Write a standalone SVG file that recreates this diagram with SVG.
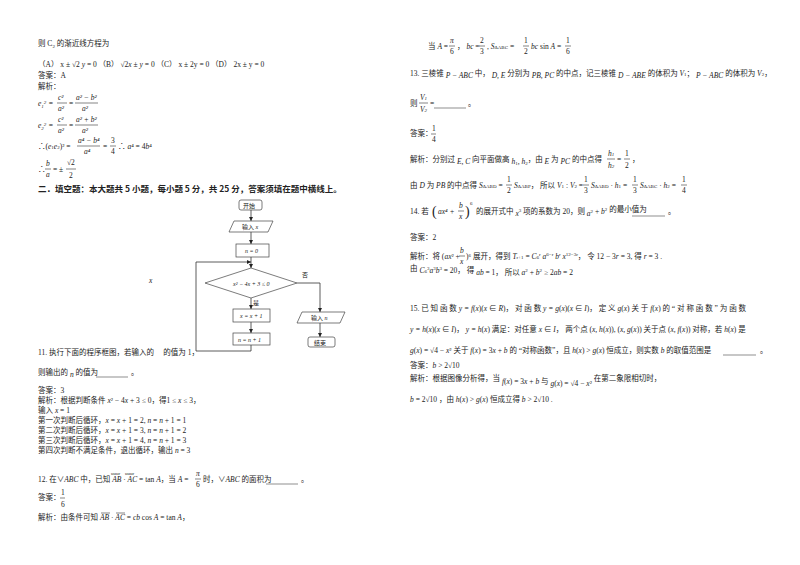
<svg xmlns="http://www.w3.org/2000/svg" width="800" height="565" viewBox="0 0 800 565">
<style>
text{font-family:"Liberation Serif","Noto Sans CJK SC",serif;font-size:7.5px;fill:#222}
.i{font-style:italic}
.b{font-weight:bold;font-size:8.5px;font-family:"Noto Sans CJK SC",sans-serif}
.s{font-size:5px}
.fl{stroke:#333;stroke-width:0.6}
.nd{fill:#fff;stroke:#444;stroke-width:0.7}
.fc{font-size:6px}
.ln{stroke:#333;stroke-width:0.8;fill:none}
.ul{stroke:#444;stroke-width:0.6}
</style>
<defs><marker id="ar" markerWidth="6" markerHeight="6" refX="5" refY="3" orient="auto"><path d="M0,0.5 L5,3 L0,5.5Z" fill="#222"/></marker></defs>
<rect width="800" height="565" fill="#fff"/>
<!-- left column -->
<text x="38" y="46">则 C<tspan class="s" dy="2">2</tspan><tspan dy="-2"> 的渐近线方程为</tspan></text>
<text x="38" y="67">（A） x ± √2 <tspan class="i">y</tspan> = 0 （B） √2<tspan class="i">x</tspan> ± <tspan class="i">y</tspan> = 0 （C） x ± 2y = 0 （D） 2x ± y = 0</text>
<text x="38" y="78">答案：A</text>
<text x="38" y="89">解析：</text>
<text x="38" y="106" class="i">e<tspan class="s" dy="2">1</tspan><tspan dy="-4" class="s">2</tspan><tspan dy="2"> = </tspan></text>
<text x="58" y="100" class="i">c²</text><line x1="57" y1="103" x2="67" y2="103" class="fl"/><text x="58" y="111" class="i">a²</text>
<text x="69" y="106">=</text>
<text x="76" y="100" class="i">a² − b²</text><line x1="75" y1="103" x2="98" y2="103" class="fl"/><text x="82" y="111" class="i">a²</text>
<text x="38" y="128" class="i">e<tspan class="s" dy="2">2</tspan><tspan dy="-4" class="s">2</tspan><tspan dy="2"> = </tspan></text>
<text x="58" y="122" class="i">c²</text><line x1="57" y1="125" x2="67" y2="125" class="fl"/><text x="58" y="133" class="i">a²</text>
<text x="69" y="128">=</text>
<text x="76" y="122" class="i">a² + b²</text><line x1="75" y1="125" x2="98" y2="125" class="fl"/><text x="82" y="133" class="i">a²</text>
<text x="38" y="149">∴(<tspan class="i">e</tspan><tspan class="s">1</tspan><tspan class="i">e</tspan><tspan class="s">2</tspan>)² =</text>
<text x="78" y="143" class="i">a⁴ − b⁴</text><line x1="77" y1="146" x2="100" y2="146" class="fl"/><text x="84" y="154" class="i">a⁴</text>
<text x="103" y="149">=</text>
<text x="111" y="143">3</text><line x1="110" y1="146" x2="116" y2="146" class="fl"/><text x="111" y="154">4</text>
<text x="118" y="149">∴ <tspan class="i">a</tspan>⁴ = 4<tspan class="i">b</tspan>⁴</text>
<text x="38" y="172">∴</text>
<text x="46" y="166" class="i">b</text><line x1="45" y1="169" x2="51" y2="169" class="fl"/><text x="46" y="177" class="i">a</text>
<text x="53" y="172">= ±</text>
<text x="67" y="165">√2</text><line x1="66" y1="169" x2="76" y2="169" class="fl"/><text x="69" y="178">2</text>
<text x="38" y="192" class="b">二．填空题：本大题共 5 小题，每小题 5 分，共 25 分，答案须填在题中横线上。</text>
<!-- flowchart -->
<g id="connectors">
<line x1="251" y1="210" x2="251" y2="221" class="ln" marker-end="url(#ar)"/>
<line x1="251" y1="232" x2="251" y2="244" class="ln" marker-end="url(#ar)"/>
<line x1="251" y1="257" x2="251" y2="268" class="ln" marker-end="url(#ar)"/>
<line x1="251" y1="298" x2="251" y2="309" class="ln" marker-end="url(#ar)"/>
<line x1="251" y1="322" x2="251" y2="333" class="ln" marker-end="url(#ar)"/>
<polyline points="251,345 251,351 196,351 196,262 251,262" class="ln" marker-end="url(#ar)"/>
<polyline points="297,283 320,283 320,312" class="ln" marker-end="url(#ar)"/>
<line x1="320" y1="323" x2="320" y2="337" class="ln" marker-end="url(#ar)"/>
</g>
<g id="start"><rect x="239" y="200" width="23" height="10" rx="2" class="nd"/><text x="243" y="207.5" class="fc">开始</text></g>
<g id="input-x"><polygon points="234,221 273,221 268,232 229,232" class="nd"/><text x="242" y="229" class="fc">输入 <tspan class="i">x</tspan></text></g>
<g id="n0"><rect x="236" y="244" width="33" height="13" class="nd"/><text x="245" y="252.5" class="fc i">n = 0</text></g>
<g id="cond"><polygon points="251,268 297,283 251,298 205,283" class="nd"/><text x="233" y="285.5" class="fc i">x² − 4x + 3 ≤ 0</text></g>
<text x="253" y="305" class="fc">是</text>
<text x="302" y="277" class="fc">否</text>
<g id="xinc"><rect x="233" y="309" width="37" height="13" class="nd"/><text x="240" y="317.5" class="fc i">x = x + 1</text></g>
<g id="ninc"><rect x="233" y="333" width="37" height="12" class="nd"/><text x="238" y="341.5" class="fc i">n = n + 1</text></g>
<g id="output-n"><polygon points="302,312 345,312 340,323 297,323" class="nd"/><text x="311" y="320" class="fc">输入 <tspan class="i">n</tspan></text></g>
<g id="end"><rect x="308" y="337" width="27" height="10" rx="2" class="nd"/><text x="314" y="344.5" class="fc">结束</text></g>
<text x="149" y="283" class="i">x</text>
<!-- q11 -->
<text x="38" y="355">11. 执行下面的程序框图，若输入的　 的值为 1，</text>
<text x="38" y="375">则输出的 <tspan class="i" dy="2">n</tspan><tspan dy="-2"> 的值为</tspan></text>
<line x1="96" y1="377" x2="128" y2="377" class="ul"/><text x="131" y="375">。</text>
<text x="38" y="393">答案：3</text>
<text x="38" y="403">解析：根据判断条件 <tspan class="i">x</tspan>² − 4<tspan class="i">x</tspan> + 3 ≤ 0，得1 ≤ <tspan class="i">x</tspan> ≤ 3，</text>
<text x="38" y="413">输入 <tspan class="i">x</tspan> = 1</text>
<text x="38" y="423">第一次判断后循环，<tspan class="i">x</tspan> = <tspan class="i">x</tspan> + 1 = 2, <tspan class="i">n</tspan> = <tspan class="i">n</tspan> + 1 = 1</text>
<text x="38" y="433">第二次判断后循环，<tspan class="i">x</tspan> = <tspan class="i">x</tspan> + 1 = 3, <tspan class="i">n</tspan> = <tspan class="i">n</tspan> + 1 = 2</text>
<text x="38" y="443">第三次判断后循环，<tspan class="i">x</tspan> = <tspan class="i">x</tspan> + 1 = 4, <tspan class="i">n</tspan> = <tspan class="i">n</tspan> + 1 = 3</text>
<text x="38" y="453">第四次判断不满足条件，退出循环，输出 <tspan class="i">n</tspan> = 3</text>
<text x="38" y="482">12. 在∨<tspan class="i">ABC</tspan> 中，已知 <tspan class="i">AB</tspan> · <tspan class="i">AC</tspan> = tan <tspan class="i">A</tspan>，当 <tspan class="i">A</tspan> =</text>
<text x="111" y="475" class="s">uuur</text><text x="125" y="475" class="s">uuur</text>
<text x="196" y="476" class="i">π</text><line x1="195" y1="479" x2="201" y2="479" class="fl"/><text x="196" y="487">6</text>
<text x="203" y="482">时，∨<tspan class="i">ABC</tspan> 的面积为</text>
<line x1="266" y1="484" x2="298" y2="484" class="ul"/><text x="301" y="482">。</text>
<text x="38" y="500">答案：</text>
<text x="61" y="495">1</text><line x1="60" y1="498" x2="65" y2="498" class="fl"/><text x="61" y="507">6</text>
<text x="38" y="520">解析：由条件可知 <tspan class="i">AB</tspan> · <tspan class="i">AC</tspan> = <tspan class="i">cb</tspan> cos <tspan class="i">A</tspan> = tan <tspan class="i">A</tspan>，</text>
<line x1="101" y1="513" x2="110" y2="513" class="fl"/><line x1="116" y1="513" x2="125" y2="513" class="fl"/>
<!-- right column -->
<text x="428" y="49">当 <tspan class="i">A</tspan> =</text>
<text x="450" y="43" class="i">π</text><line x1="449" y1="46" x2="455" y2="46" class="fl"/><text x="450" y="54">6</text>
<text x="457" y="49">， <tspan class="i">bc</tspan> =</text>
<text x="480" y="43">2</text><line x1="479" y1="46" x2="485" y2="46" class="fl"/><text x="480" y="54">3</text>
<text x="487" y="49">, <tspan class="i">S</tspan><tspan class="s">ΔABC</tspan> =</text>
<text x="524" y="43">1</text><line x1="523" y1="46" x2="529" y2="46" class="fl"/><text x="524" y="54">2</text>
<text x="531" y="49"><tspan class="i">bc</tspan> sin <tspan class="i">A</tspan> =</text>
<text x="566" y="43">1</text><line x1="565" y1="46" x2="571" y2="46" class="fl"/><text x="566" y="54">6</text>
<text x="410" y="76">13. 三棱锥 <tspan class="i" dy="2">P − ABC</tspan><tspan dy="-2"> 中， </tspan><tspan class="i" dy="2">D, E</tspan><tspan dy="-2"> 分别为 </tspan><tspan class="i" dy="2">PB, PC</tspan><tspan dy="-2"> 的中点，记三棱锥 </tspan><tspan class="i" dy="2">D − ABE</tspan><tspan dy="-2"> 的体积为 </tspan><tspan class="i">V</tspan><tspan class="s">1</tspan>；  <tspan class="i" dy="2">P − ABC</tspan><tspan dy="-2"> 的体积为 </tspan><tspan class="i">V</tspan><tspan class="s">2</tspan>，</text>
<text x="410" y="106">则</text>
<text x="420" y="100" class="i">V<tspan class="s">1</tspan></text><line x1="419" y1="103" x2="428" y2="103" class="fl"/><text x="420" y="112" class="i">V<tspan class="s">2</tspan></text>
<text x="430" y="106">=</text>
<line x1="434" y1="108" x2="466" y2="108" class="ul"/><text x="468" y="106">。</text>
<text x="410" y="136">答案：</text>
<text x="432" y="131">1</text><line x1="431" y1="134" x2="436" y2="134" class="fl"/><text x="432" y="142">4</text>
<text x="410" y="162">解析：分别过 <tspan class="i" dy="2">E, C</tspan><tspan dy="-2"> 向平面做高 </tspan><tspan class="i" dy="2">h</tspan><tspan class="s" dy="1">1</tspan><tspan class="i" dy="-1">, h</tspan><tspan class="s" dy="1">2</tspan><tspan dy="-3">，由 </tspan><tspan class="i" dy="2">E</tspan><tspan dy="-2"> 为 </tspan><tspan class="i" dy="2">PC</tspan><tspan dy="-2"> 的中点得</tspan></text>
<text x="608" y="156" class="i">h<tspan class="s">1</tspan></text><line x1="607" y1="159" x2="615" y2="159" class="fl"/><text x="608" y="168" class="i">h<tspan class="s">2</tspan></text>
<text x="617" y="162">=</text>
<text x="625" y="156">1</text><line x1="624" y1="159" x2="630" y2="159" class="fl"/><text x="625" y="168">2</text>
<text x="632" y="162">，</text>
<text x="410" y="188">由 <tspan class="i">D</tspan> 为 <tspan class="i">PB</tspan> 的中点得 <tspan class="i">S</tspan><tspan class="s">ΔABD</tspan> =</text>
<text x="507" y="182">1</text><line x1="506" y1="185" x2="512" y2="185" class="fl"/><text x="507" y="193">2</text>
<text x="514" y="188"><tspan class="i">S</tspan><tspan class="s">ΔABP</tspan>， 所以 <tspan class="i">V</tspan><tspan class="s">1</tspan> : <tspan class="i">V</tspan><tspan class="s">2</tspan> =</text>
<text x="584" y="182">1</text><line x1="583" y1="185" x2="589" y2="185" class="fl"/><text x="584" y="193">3</text>
<text x="591" y="188"><tspan class="i">S</tspan><tspan class="s">ΔABD</tspan> · <tspan class="i">h</tspan><tspan class="s">1</tspan> =</text>
<text x="633" y="182">1</text><line x1="632" y1="185" x2="638" y2="185" class="fl"/><text x="633" y="193">3</text>
<text x="640" y="188"><tspan class="i">S</tspan><tspan class="s">ΔABC</tspan> · <tspan class="i">h</tspan><tspan class="s">2</tspan> =</text>
<text x="682" y="182">1</text><line x1="681" y1="185" x2="687" y2="185" class="fl"/><text x="682" y="193">4</text>
<text x="410" y="214">14. 若</text>
<text x="432" y="216" style="font-size:14px">(</text>
<text x="438" y="214" class="i">ax⁴ +</text>
<text x="459" y="208" class="i">b</text><line x1="458" y1="211" x2="464" y2="211" class="fl"/><text x="459" y="219" class="i">x</text>
<text x="465" y="216" style="font-size:14px">)</text><text x="470" y="205" class="s">6</text>
<text x="476" y="214">的展开式中 <tspan class="i" dy="2">x</tspan><tspan class="s" dy="-4">3</tspan><tspan dy="2"> 项的系数为 20，则 </tspan><tspan class="i" dy="2">a</tspan><tspan class="s" dy="-3">2</tspan><tspan dy="1"> + </tspan><tspan class="i">b</tspan><tspan class="s" dy="-3">2</tspan><tspan dy="1"> 的最小值为</tspan></text>
<line x1="632" y1="216" x2="665" y2="216" class="ul"/><text x="668" y="214">。</text>
<text x="410" y="240">答案：2</text>
<text x="410" y="259">解析：将 (<tspan class="i">ax</tspan>² +</text>
<text x="460" y="253" class="i">b</text><line x1="459" y1="256" x2="465" y2="256" class="fl"/><text x="460" y="264" class="i">x</text>
<text x="466" y="259">)⁶ 展开，得到 <tspan class="i">T</tspan><tspan class="s">r+1</tspan> = <tspan class="i">C</tspan><tspan class="s">6</tspan><tspan class="s" dy="-3">r</tspan><tspan dy="3" class="i"> a</tspan><tspan class="s" dy="-3">6−r</tspan><tspan dy="3" class="i"> b</tspan><tspan class="s" dy="-3">r</tspan><tspan dy="3" class="i"> x</tspan><tspan class="s" dy="-3">12−3r</tspan><tspan dy="3">， 令 12 − 3<tspan class="i">r</tspan> = 3, 得 <tspan class="i">r</tspan> = 3 .</tspan></text>
<text x="410" y="271">由 <tspan class="i" dy="2">C</tspan><tspan class="s">6</tspan><tspan class="s" dy="-3">3</tspan><tspan class="i" dy="3">a</tspan><tspan class="s" dy="-3">3</tspan><tspan class="i" dy="3">b</tspan><tspan class="s" dy="-3">3</tspan><tspan dy="3"> = 20，  得 </tspan><tspan class="i" dy="2">ab</tspan><tspan dy="0"> = 1，  所以 </tspan><tspan class="i">a</tspan><tspan class="s" dy="-3">2</tspan><tspan dy="3"> + </tspan><tspan class="i">b</tspan><tspan class="s" dy="-3">2</tspan><tspan dy="3"> ≥ 2<tspan class="i">ab</tspan> = 2</tspan></text>
<text x="410" y="311">15. 已 知 函 数  <tspan class="i">y = f</tspan>(<tspan class="i">x</tspan>)(<tspan class="i">x</tspan> ∈ <tspan class="i">R</tspan>)，  对 函 数  <tspan class="i">y = g</tspan>(<tspan class="i">x</tspan>)(<tspan class="i">x</tspan> ∈ <tspan class="i">I</tspan>)，  定 义  <tspan class="i">g</tspan>(<tspan class="i">x</tspan>) 关 于  <tspan class="i">f</tspan>(<tspan class="i">x</tspan>) 的 “ 对 称 函 数 ” 为 函 数</text>
<text x="410" y="332"><tspan class="i">y = h</tspan>(<tspan class="i">x</tspan>)(<tspan class="i">x</tspan> ∈ <tspan class="i">I</tspan>)，  <tspan class="i">y = h</tspan>(<tspan class="i">x</tspan>) 满足：对任意 <tspan class="i">x</tspan> ∈ <tspan class="i">I</tspan>， 两个点 (<tspan class="i">x, h</tspan>(<tspan class="i">x</tspan>)), (<tspan class="i">x, g</tspan>(<tspan class="i">x</tspan>)) 关于点 (<tspan class="i">x, f</tspan>(<tspan class="i">x</tspan>)) 对称，若 <tspan class="i">h</tspan>(<tspan class="i">x</tspan>) 是</text>
<text x="410" y="353"><tspan class="i">g</tspan>(<tspan class="i">x</tspan>) = √4 − <tspan class="i">x</tspan>² 关于 <tspan class="i">f</tspan>(<tspan class="i">x</tspan>) = 3<tspan class="i">x</tspan> + <tspan class="i">b</tspan> 的 “对称函数”，且 <tspan class="i">h</tspan>(<tspan class="i">x</tspan>) &gt; <tspan class="i">g</tspan>(<tspan class="i">x</tspan>) 恒成立，则实数 <tspan class="i">b</tspan> 的取值范围是</text>
<line x1="723" y1="355" x2="756" y2="355" class="ul"/><text x="760" y="353">。</text>
<text x="410" y="368">答案：<tspan class="i">b</tspan> &gt; 2√10</text>
<text x="410" y="381">解析：根据图像分析得，当 <tspan class="i" dy="3">f</tspan><tspan dy="0">(<tspan class="i">x</tspan>) = 3<tspan class="i">x</tspan> + <tspan class="i">b</tspan> 与 </tspan><tspan class="i" dy="2">g</tspan>(<tspan class="i">x</tspan>) = √4 − <tspan class="i">x</tspan>²<tspan dy="-5"> 在第二象限相切时，</tspan></text>
<text x="410" y="402"><tspan class="i">b</tspan> = 2√10 ，由 <tspan class="i">h</tspan>(<tspan class="i">x</tspan>) &gt; <tspan class="i">g</tspan>(<tspan class="i">x</tspan>) 恒成立得 <tspan class="i">b</tspan> &gt; 2√10 .</text>
</svg>
